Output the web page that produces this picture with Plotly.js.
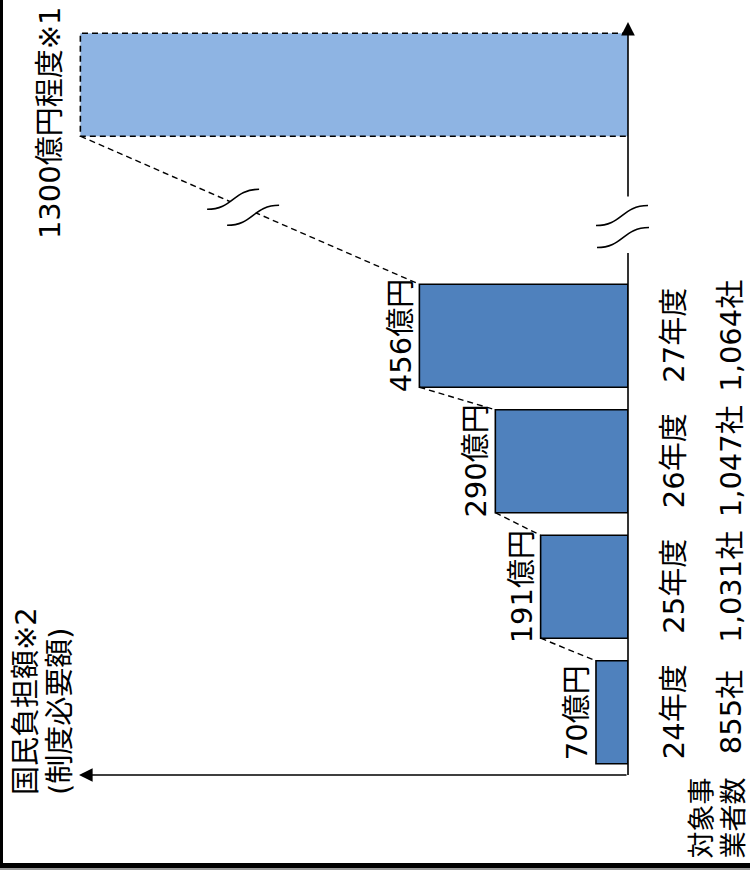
<!DOCTYPE html>
<html><head><meta charset="utf-8">
<script src="https://cdn.plot.ly/plotly-3.0.1.min.js"></script>
<style>
html,body{margin:0;padding:0;background:#fff;}
#wrap{position:relative;width:750px;height:875px;overflow:hidden;}
#chart{width:750px;height:875px;}
.bl{position:absolute;left:0;top:0;width:3px;height:868px;background:#000;}
.bb{position:absolute;left:0;top:863px;width:750px;height:5px;background:#000;}
.bg{position:absolute;left:0;top:868px;width:750px;height:2px;background:#999;}
</style></head>
<body><div id="wrap"><div id="chart"></div><div class="bl"></div><div class="bb"></div><div class="bg"></div></div>
<script>
// ---- data ----
const fiscalYears = ['24年度', '25年度', '26年度', '27年度'];
const companies = ['855社', '1,031社', '1,047社', '1,064社'];
const burden = [70, 191, 290, 456];
const valueLabels = ['70億円', '191億円', '290億円', '456億円'];
const futureValue = 1300;
const futureLabel = '1300億円程度※1';
const axisTitle = ['国民負担額※2', '(制度必要額)'];
const rowTitle = ['対象事', '業者数'];

// ---- layout constants ----
const FONT = 'DejaVu Sans, Noto Sans CJK JP, sans-serif';
const FS = 29;
const W = 0.82;            // bar thickness (category units)
const XMAX = 1200;         // lower value axis range
const BREAK = 103;         // amount cut out by the axis break
const YMIN = -0.5, YMAX = 5.5;
const idx = fiscalYears.map((_, i) => i);
const futurePos = fiscalYears.length + 1;
const BLUE = '#4F81BD', LIGHT = '#8EB4E3';

const px = v => (XMAX - v) / XMAX;                         // paper x for lower axis
const px2 = v => (XMAX + BREAK - v) / XMAX;                // paper x for upper axis
const py = p => (p - YMIN) / (YMAX - YMIN);                 // paper y

// connectors between bar corners
const cx = [], cy = [];
for (let i = 0; i < burden.length - 1; i++) {
  cx.push(burden[i + 1], burden[i], null);
  cy.push(idx[i + 1] - W / 2, idx[i] + W / 2, null);
}
const last = burden.length - 1;

const traces = [
  {type: 'bar', orientation: 'h', x: burden, y: idx, width: W,
   marker: {color: BLUE, line: {color: '#000', width: 1.6}}, hoverinfo: 'skip'},
  {type: 'bar', orientation: 'h', x: [futureValue], y: [futurePos], width: W, xaxis: 'x2',
   marker: {color: LIGHT, line: {width: 0}}, hoverinfo: 'skip'},
  {type: 'scatter', mode: 'lines', xaxis: 'x2', cliponaxis: false,
   x: [BREAK, futureValue, futureValue, BREAK],
   y: [futurePos + W / 2, futurePos + W / 2, futurePos - W / 2, futurePos - W / 2],
   line: {color: '#000', width: 1.6, dash: '6px,4px'}, hoverinfo: 'skip'},
  {type: 'scatter', mode: 'lines', x: cx, y: cy,
   line: {color: '#000', width: 1.4, dash: '6px,4px'}, hoverinfo: 'skip'},
  {type: 'scatter', mode: 'lines', xaxis: 'x2', cliponaxis: false,
   x: [futureValue, burden[last] + BREAK], y: [futurePos - W / 2, idx[last] + W / 2],
   line: {color: '#000', width: 1.4, dash: '6px,4px'}, hoverinfo: 'skip'}
];

// break symbol (pixel offsets, y up)
function sCurve(ox, oy) {
  return `M ${ox - 26} ${oy - 10} C ${ox} ${oy - 10}, ${ox} ${oy + 10}, ${ox + 26} ${oy + 10}`;
}
function breakShapes(ax, ay, d1, d2) {
  const c1 = sCurve(d1[0], d1[1]), c2 = sCurve(d2[0], d2[1]);
  const fill = `M ${d1[0] - 26} ${d1[1] - 10} C ${d1[0]} ${d1[1] - 10}, ${d1[0]} ${d1[1] + 10}, ${d1[0] + 26} ${d1[1] + 10} ` +
    `L ${d2[0] + 26} ${d2[1] + 10} C ${d2[0]} ${d2[1] + 10}, ${d2[0]} ${d2[1] - 10}, ${d2[0] - 26} ${d2[1] - 10} Z`;
  const base = {type: 'path', xref: 'paper', yref: 'paper', xsizemode: 'pixel', ysizemode: 'pixel',
    xanchor: ax, yanchor: ay, layer: 'above'};
  return [
    Object.assign({}, base, {path: fill, fillcolor: '#fff', line: {width: 0}}),
    Object.assign({}, base, {path: c1, line: {color: '#000', width: 1.6}}),
    Object.assign({}, base, {path: c2, line: {color: '#000', width: 1.6}})
  ];
}
const AXBREAK = 3.87;
const shapes = [
  {type: 'line', xref: 'paper', yref: 'y', x0: 1, x1: 1, y0: YMIN, y1: AXBREAK - 0.21,
   line: {color: '#000', width: 1.6}}
].concat(breakShapes(1, py(AXBREAK), [-6, 11], [-5, -11]));
// diagonal break
const t = 0.48;
const dA = [px2(futureValue), py(futurePos - W / 2)];
const dB = [px(burden[last]), py(idx[last] + W / 2)];
shapes.push(...breakShapes(dA[0] + (dB[0] - dA[0]) * t, dA[1] + (dB[1] - dA[1]) * t, [-10, 8], [10, -8]));

const f = {family: FONT, size: FS, color: '#000'};
const annotations = [];
// axes arrows
annotations.push({xref: 'paper', yref: 'paper', x: 0, y: 0, axref: 'pixel', ayref: 'pixel', ax: 549, ay: 0,
  showarrow: true, arrowhead: 2, arrowsize: 1.7, arrowwidth: 1.6, arrowcolor: '#000', text: ''});
annotations.push({xref: 'paper', yref: 'paper', x: 1, y: 1, axref: 'pixel', ayref: 'pixel', ax: 0, ay: 176,
  showarrow: true, arrowhead: 2, arrowsize: 1.7, arrowwidth: 1.6, arrowcolor: '#000', text: ''});
// value labels
burden.forEach((v, i) => annotations.push({xref: 'x', yref: 'y', x: v, y: idx[i], text: valueLabels[i],
  showarrow: false, textangle: -90, xanchor: 'right', yanchor: 'middle', font: f}));
annotations.push({xref: 'x2', yref: 'y', x: futureValue, y: futurePos, text: futureLabel, showarrow: false,
  textangle: -90, xanchor: 'right', yanchor: 'middle', xshift: -12, yshift: -38, font: f});
// category labels
fiscalYears.forEach((c, i) => annotations.push({xref: 'paper', yref: 'y', x: 1, y: idx[i], text: c,
  showarrow: false, textangle: -90, xanchor: 'center', yanchor: 'middle', xshift: 46, font: f}));
companies.forEach((c, i) => annotations.push({xref: 'paper', yref: 'y', x: 1, y: idx[i], text: c,
  showarrow: false, textangle: -90, xanchor: 'center', yanchor: 'middle', xshift: 103, font: f}));
rowTitle.forEach((c, i) => annotations.push({xref: 'paper', yref: 'paper', x: 1, y: 0, text: c,
  showarrow: false, textangle: -90, xanchor: 'center', yanchor: 'top', xshift: 73 + 32 * i, yshift: -1,
  font: Object.assign({}, f, {size: 27})}));
axisTitle.forEach((c, i) => annotations.push({xref: 'paper', yref: 'paper', x: 0, y: 0, text: c,
  showarrow: false, textangle: -90, xanchor: 'center', yanchor: 'bottom', xshift: -53 + 34 * i, yshift: -22, font: f}));

const hidden = {showgrid: false, zeroline: false, showline: false, showticklabels: false, ticks: ''};
const layout = {
  width: 750, height: 875,
  margin: {l: 79, r: 122, t: 22, b: 100},
  paper_bgcolor: '#fff', plot_bgcolor: 'rgba(0,0,0,0)',
  showlegend: false,
  xaxis: Object.assign({range: [XMAX, 0]}, hidden),
  xaxis2: Object.assign({range: [XMAX + BREAK, BREAK], overlaying: 'x'}, hidden),
  yaxis: Object.assign({range: [YMIN, YMAX]}, hidden),
  shapes: shapes,
  annotations: annotations,
  font: {family: FONT}
};
Plotly.newPlot('chart', traces, layout, {staticPlot: true});
</script></body></html>
